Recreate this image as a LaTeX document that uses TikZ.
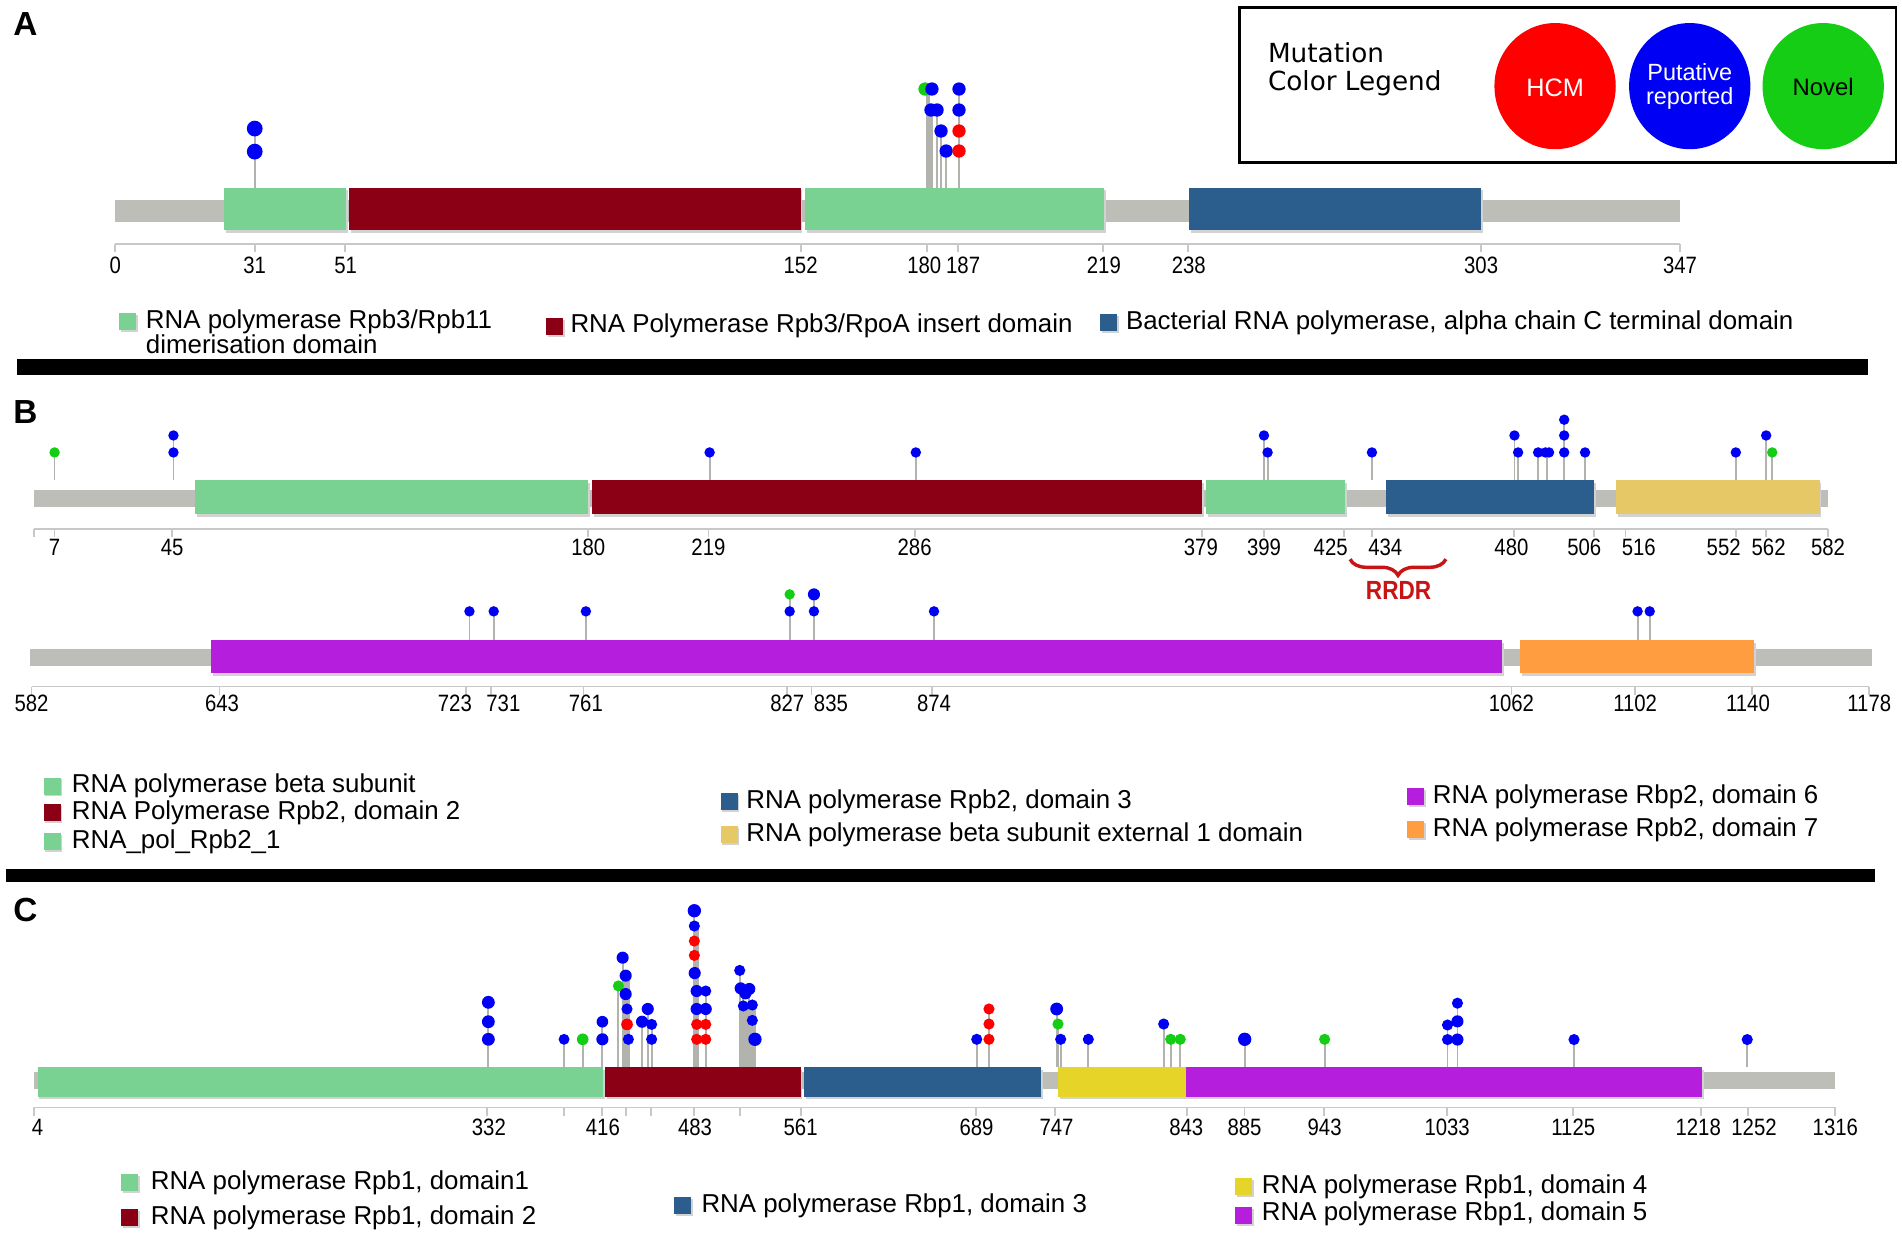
\documentclass[tikz,border=0pt]{standalone}
\usepackage{fontspec}
\setmainfont{Liberation Sans}
\newfontfamily\narrowf{Liberation Sans}[FakeStretch=0.86]
\newfontfamily\legf{DejaVu Sans}
\usetikzlibrary{decorations.pathreplacing}
\definecolor{bbgray}{RGB}{189,190,183}
\definecolor{stemc}{RGB}{178,179,173}
\definecolor{axisc}{RGB}{200,200,200}
\definecolor{dgreen}{RGB}{122,210,146}
\definecolor{dred}{RGB}{139,0,20}
\definecolor{dblue}{RGB}{43,94,140}
\definecolor{dyellowB}{RGB}{230,201,102}
\definecolor{dyellowC}{RGB}{230,212,40}
\definecolor{dpurple}{RGB}{180,30,220}
\definecolor{dorange}{RGB}{255,157,64}
\definecolor{mb}{RGB}{0,0,245}
\definecolor{mr}{RGB}{255,0,0}
\definecolor{mg}{RGB}{20,205,20}
\definecolor{rrdrc}{RGB}{200,20,20}
\definecolor{shad}{RGB}{210,210,210}
\newcommand\dombox[5]{\fill[shad] ({#1+1.5},{#2+2}) rectangle ({#3+1.5},{#4+2});\fill[#5] (#1,#2) rectangle (#3,#4);}
\newcommand\legsq[3]{\fill[shad] ({#1+1.5},{#2+1.5}) rectangle ({#1+15.5},{#2+15.5});\fill[#3] (#1,#2) rectangle ({#1+14},{#2+14});}
\begin{document}
\begin{tikzpicture}[x=0.6pt,y=-0.6pt,
  stemline/.style={draw=stemc,line width=1.1pt},
  thinstem/.style={draw=stemc,line width=0.9pt},
  axisline/.style={draw=axisc,line width=0.9pt},
  ticklab/.style={font=\narrowf\fontsize{11.7}{13}\selectfont,inner sep=0pt,text=black},
  legtext/.style={font=\fontsize{12.8}{15}\selectfont,anchor=west,inner sep=0pt},
  panel/.style={font=\bfseries\fontsize{16.5}{19}\selectfont,inner sep=0pt}
]
\fill[white] (0,0) rectangle (1568,1023);
\useasboundingbox (0,0) rectangle (1568,1023);

% ================= Panel A =================
\node[panel] (pA) at (21,20) {A};
% legend box
\draw[line width=1.3pt] (1022,6) rectangle (1563,134);
\node[font=\legf\fontsize{13}{13.8}\selectfont,align=left,anchor=west,inner sep=0pt] (legtitle) at (1045,57) {Mutation\\Color Legend};
\fill[mr] (1282,71) ellipse [x radius=50,y radius=52];
\fill[mb] (1393,71) ellipse [x radius=50,y radius=52];
\fill[mg] (1503,71) ellipse [x radius=50,y radius=52];
\node[text=white,font=\fontsize{12.5}{14}\selectfont,inner sep=0pt] (hcm) at (1282,72) {HCM};
\node[text=white,font=\fontsize{11.6}{12}\selectfont,align=center,inner sep=0pt] (put) at (1393,71) {Putative\\reported};
\node[text=black,font=\fontsize{11.8}{14}\selectfont,inner sep=0pt] (nov) at (1503,72) {Novel};

\fill[bbgray] (95,165) rectangle (1385,183);
\dombox{185}{155}{285}{190}{dgreen}
\dombox{288}{155}{660}{190}{dred}
\dombox{664}{155}{910}{190}{dgreen}
\dombox{980}{155}{1221}{190}{dblue}
\foreach \x/\t in {210/106,764/73,766/73,768/90.7,772.7/90.7,775.5/108,779.6/124.5,790.6/73}
  \draw[stemline] (\x,155) -- (\x,\t);
\foreach \x/\y/\c/\r in {210/106/mb/6.5,210/125/mb/6.5,762.6/73.4/mg/5.5,768.3/73.4/mb/5.5,767.5/90.7/mb/5.5,772.5/90.7/mb/5.5,775.8/108/mb/5.5,780/124.5/mb/5.5,790.6/73.4/mb/5.5,790.6/90.7/mb/5.5,790.6/108/mr/5.5,790.6/124.5/mr/5.5}
  \fill[\c] (\x,\y) circle [radius=\r];
\draw[axisline] (95,201) -- (1385,201);
\foreach \x in {95,210.2,284.6,660,764,790,909,979.6,1221,1384.8}
  \draw[axisline] (\x,201) -- (\x,208);
\foreach \x/\t in {95/0,210/31,285/51,660/152,762/180,794/187,910/219,980/238,1221/303,1385/347}
  \node[ticklab] (la\t) at (\x,219) {\t};
% legend A
\legsq{98}{258}{dgreen}
\node[legtext] (lgA1) at (120,265) {RNA polymerase Rpb3/Rpb11};
\node[legtext] (lgA1b) at (120,284) {dimerisation domain};
\legsq{450}{262}{dred}
\node[legtext] (lgA2) at (470,269) {RNA Polymerase Rpb3/RpoA insert domain};
\legsq{907}{259}{dblue}
\node[legtext] (lgA3) at (928,266) {Bacterial RNA polymerase, alpha chain C terminal domain};
\fill[black] (14,296) rectangle (1540,309);

% ================= Panel B =================
\node[panel] (pB) at (21,340) {B};
\fill[bbgray] (28,404) rectangle (1507,418);
\dombox{161}{396}{485}{424}{dgreen}
\dombox{488}{396}{991}{424}{dred}
\dombox{994}{396}{1109}{424}{dgreen}
\dombox{1143}{396}{1314}{424}{dblue}
\dombox{1332}{396}{1500}{424}{dyellowB}
\foreach \x/\t in {45/373,143/359,585/373,755/373,1042/359,1045/373,1131/373,1248.5/359,1251.5/373,1268/373,1275/373,1289.5/346,1306.7/373,1431/373,1456/359,1461/373}
  \draw[thinstem] (\x,396) -- (\x,\t);
\foreach \x/\y/\c in {45/373/mg,143/373/mb,143/359/mb,585/373/mb,755/373/mb,1042/359/mb,1045/373/mb,1131/373/mb,1248.5/359/mb,1251.5/373/mb,1268/373/mb,1274/373/mb,1277/373/mb,1289.5/346/mb,1289.5/359/mb,1289.5/373/mb,1306.7/373/mb,1431/373/mb,1456/359/mb,1461/373/mg}
  \fill[\c] (\x,\y) circle [radius=4.3];
\draw[axisline] (28,436) -- (1507,436);
\foreach \x in {28,45,142,485,584,754.5,991,1042,1108,1131,1248,1314,1340,1431,1456,1507}
  \draw[axisline] (\x,436) -- (\x,443);
\foreach \x/\t in {45/7,142/45,485/180,584/219,754/286,990/379,1042/399,1097/425,1142/434,1246/480,1306/506,1351/516,1421/552,1458/562,1507/582}
  \node[ticklab] (lb\t) at (\x,451) {\t};
\draw[rrdrc,line width=1.7pt,decorate,decoration={brace,amplitude=8pt,mirror}] (1113,461) -- (1192,461);
\node[text=rrdrc,font=\narrowf\bfseries\fontsize{13}{15}\selectfont,inner sep=0pt] (rrdr) at (1153,487) {RRDR};

\fill[bbgray] (25,535) rectangle (1543,549);
\dombox{174}{528}{1238}{555}{dpurple}
\dombox{1253}{528}{1446}{555}{dorange}
\foreach \x/\t in {387/504,407/504,483/504,651/490,671/490,770/504,1350/504,1360/504}
  \draw[thinstem] (\x,528) -- (\x,\t);
\foreach \x/\y/\c/\r in {387/504/mb/4.3,407/504/mb/4.3,483/504/mb/4.3,651/504/mb/4.3,651/490/mg/4.3,671/504/mb/4.3,671/490/mb/5,770/504/mb/4.3,1350/504/mb/4.3,1360/504/mb/4.3}
  \fill[\c] (\x,\y) circle [radius=\r];
\draw[axisline] (26,566) -- (1541,566);
\foreach \x in {26,181,384,405,481,649,669,768,1246,1348,1444,1541}
  \draw[axisline] (\x,566) -- (\x,573);
\foreach \x/\t in {26/582,183/643,375/723,415/731,483/761,649/827,685/835,770/874,1246/1062,1348/1102,1441/1140,1541/1178}
  \node[ticklab] (lc\t) at (\x,580) {\t};
% legend B
\legsq{36}{641}{dgreen}
\node[legtext] (lgB1) at (59,648) {RNA polymerase beta subunit};
\legsq{36}{663}{dred}
\node[legtext] (lgB2) at (59,670) {RNA Polymerase Rpb2, domain 2};
\legsq{36}{687}{dgreen}
\node[legtext] (lgB3) at (59,694) {RNA\_pol\_Rpb2\_1};
\legsq{594}{654}{dblue}
\node[legtext] (lgB4) at (615,661) {RNA polymerase Rpb2, domain 3};
\legsq{594}{681}{dyellowB}
\node[legtext] (lgB5) at (615,688) {RNA polymerase beta subunit external 1 domain};
\legsq{1160}{650}{dpurple}
\node[legtext] (lgB6) at (1181,657) {RNA polymerase Rbp2, domain 6};
\legsq{1160}{677}{dorange}
\node[legtext] (lgB7) at (1181,684) {RNA polymerase Rpb2, domain 7};
\fill[black] (5,716) rectangle (1546,727);

% ================= Panel C =================
\node[panel] (pC) at (21,750) {C};
\fill[bbgray] (28,884) rectangle (1513,898);
\dombox{31}{880}{497}{904}{dgreen}
\dombox{499}{880}{660}{904}{dred}
\dombox{663}{880}{858}{904}{dblue}
\dombox{872}{880}{978}{904}{dyellowC}
\dombox{978}{880}{1403}{904}{dpurple}
% gray bands of dense stems
\fill[stemc] (513,805) rectangle (519,880);
\fill[stemc] (609,828) rectangle (623,880);
\fill[stemc] (571.5,760) rectangle (576,880);
\foreach \x/\t in {402.6/826,465/857,480.4/857,496.6/842,509.8/813,513.3/789.5,515.8/804,517/832,518/857,529.3/842,534/832,537.2/844.5,572.4/751,574.3/817,581.8/817,609.8/800,612.8/815,617.7/815,620.2/828.5,622.4/857,805.2/857,815.3/832,871.1/832,872.2/844,874.4/857,897.2/857,959.3/844,965.1/857,973/857,1026.1/857,1092/857,1193.3/845,1201.5/827,1297.6/857,1440.4/857}
  \draw[thinstem] (\x,880) -- (\x,\t);
\foreach \x/\y/\c/\r in {402.6/826.3/mb/5.3,402.6/842.3/mb/5.3,402.6/856.8/mb/5.3,465/856.8/mb/4.5,480.4/856.8/mg/4.8,496.6/842.3/mb/4.8,496.6/856.8/mb/5,509.8/812.8/mg/4.6,513.3/789.5/mb/5,515.8/804.3/mb/5,515.8/819.5/mb/5,516.9/831.8/mb/4.6,516.9/844.5/mr/4.8,518/856.8/mb/4.6,529.3/842.3/mb/5,534/831.8/mb/5,537.2/844.5/mb/4.6,537.2/856.8/mb/4.6,572.4/750.8/mb/5.5,572.4/763.4/mb/4.6,572.4/775.8/mr/4.6,572.4/787.6/mr/4.6,572.7/802.2/mb/5,574.3/817/mb/5,581.8/817/mb/4.6,574.3/831.8/mb/5,581.8/831.8/mb/5,574.3/844.5/mr/4.6,581.8/844.5/mr/4.6,574.3/856.8/mr/4.6,581.8/856.8/mr/4.6,609.8/800/mb/4.6,610.6/814.8/mb/5,614.5/818.9/mb/5,617.7/815.3/mb/5,612.8/829.3/mb/4.6,620.2/828.5/mb/4.6,620.2/841.2/mb/4.6,622.4/856.8/mb/5.5,805.2/856.8/mb/4.6,815.3/831.8/mr/4.6,815.3/844.2/mr/4.6,815.3/856.8/mr/4.6,871.1/831.8/mb/5.3,872.2/844.2/mg/4.6,874.4/856.8/mb/4.6,897.2/856.8/mb/4.6,959.3/844.2/mb/4.6,965.1/856.8/mg/4.6,973/856.8/mg/4.6,1026.1/856.8/mb/5.5,1092/856.8/mg/4.6,1193.3/845/mb/4.6,1193.3/857/mb/4.6,1201.5/827/mb/4.6,1201.5/842/mb/5,1201.5/857/mb/5,1297.6/857/mb/4.6,1440.4/857/mb/4.6}
  \fill[\c] (\x,\y) circle [radius=\r];
\draw[axisline] (28,913) -- (1513,913);
\foreach \x in {28,401.5,465,496.4,516,537,572,610,660,804.8,870,978.8,1026,1091.7,1193,1297,1402,1440.7,1513}
  \draw[axisline] (\x,913) -- (\x,920);
\foreach \x/\t in {31/4,403/332,497/416,573/483,660/561,805/689,871/747,978/843,1026/885,1092/943,1193/1033,1297/1125,1400/1218,1446/1252,1513/1316}
  \node[ticklab] (ld\t) at (\x,929) {\t};
% legend C
\legsq{100}{968}{dgreen}
\node[legtext] (lgC1) at (124,975) {RNA polymerase Rpb1, domain1};
\legsq{100}{997}{dred}
\node[legtext] (lgC2) at (124,1004) {RNA polymerase Rpb1, domain 2};
\legsq{556}{987}{dblue}
\node[legtext] (lgC3) at (578,994) {RNA polymerase Rbp1, domain 3};
\legsq{1018}{971}{dyellowC}
\node[legtext] (lgC4) at (1040,978) {RNA polymerase Rpb1, domain 4};
\legsq{1018}{995}{dpurple}
\node[legtext] (lgC5) at (1040,1001) {RNA polymerase Rbp1, domain 5};
\end{tikzpicture}
\end{document}
